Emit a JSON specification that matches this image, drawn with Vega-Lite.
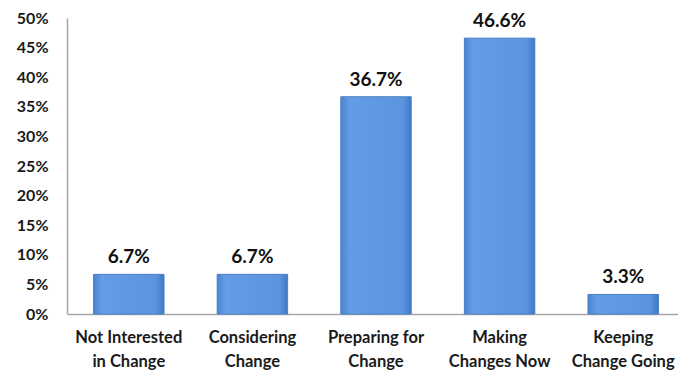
{
  "$schema": "https://vega.github.io/schema/vega-lite/v6.json",
  "autosize": {"type": "none"},
  "width": 618,
  "height": 296,
  "padding": {"left": 67, "top": 18, "right": 0, "bottom": 57},
  "background": "white",
  "data": {"values": [
    {"stage": "Not Interested|in Change", "pct": 0.067},
    {"stage": "Considering|Change", "pct": 0.067},
    {"stage": "Preparing for|Change", "pct": 0.367},
    {"stage": "Making|Changes Now", "pct": 0.466},
    {"stage": "Keeping|Change Going", "pct": 0.033}
  ]},
  "config": {
    "view": {"stroke": null},
    "font": "Lato"
  },
  "encoding": {
    "x": {"field": "stage", "type": "nominal", "sort": null,
      "scale": {"paddingInner": 0.43, "paddingOuter": 0.215},
      "axis": {"title": null, "labelAngle": 0, "labelExpr": "split(datum.label, '|')",
        "labelFont": "Lato", "labelFontWeight": "bold", "labelFontSize": 16.5, "labelColor": "#1a1a1a",
        "labelPadding": 15, "labelLineHeight": 24, "ticks": false, "domainColor": "#a6a6a6", "domainWidth": 1.5, "grid": false}},
    "y": {"field": "pct", "type": "quantitative",
      "scale": {"domain": [0, 0.5]},
      "axis": {"title": null, "format": ".0%", "values": [0,0.05,0.1,0.15,0.2,0.25,0.3,0.35,0.4,0.45,0.5],
        "labelFont": "Lato", "labelFontWeight": "bold", "labelFontSize": 16, "labelColor": "#1a1a1a",
        "labelPadding": 19, "ticks": false, "domainColor": "#a6a6a6", "domainWidth": 1.5, "grid": false}}
  },
  "layer": [
    {"mark": {"type": "bar", "stroke": "#4a7fc4", "strokeWidth": 1,
      "color": {"gradient": "linear", "x1": 0, "y1": 0, "x2": 1, "y2": 0,
        "stops": [{"offset": 0, "color": "#4a84d0"}, {"offset": 0.12, "color": "#639de6"}, {"offset": 0.88, "color": "#5b95e0"}, {"offset": 1, "color": "#3f78c6"}]}}},
    {"mark": {"type": "text", "dy": -17, "font": "Lato", "fontWeight": "bold", "fontSize": 19, "color": "#111111"},
      "encoding": {"text": {"field": "pct", "type": "quantitative", "format": ".1%"}}}
  ]
}
